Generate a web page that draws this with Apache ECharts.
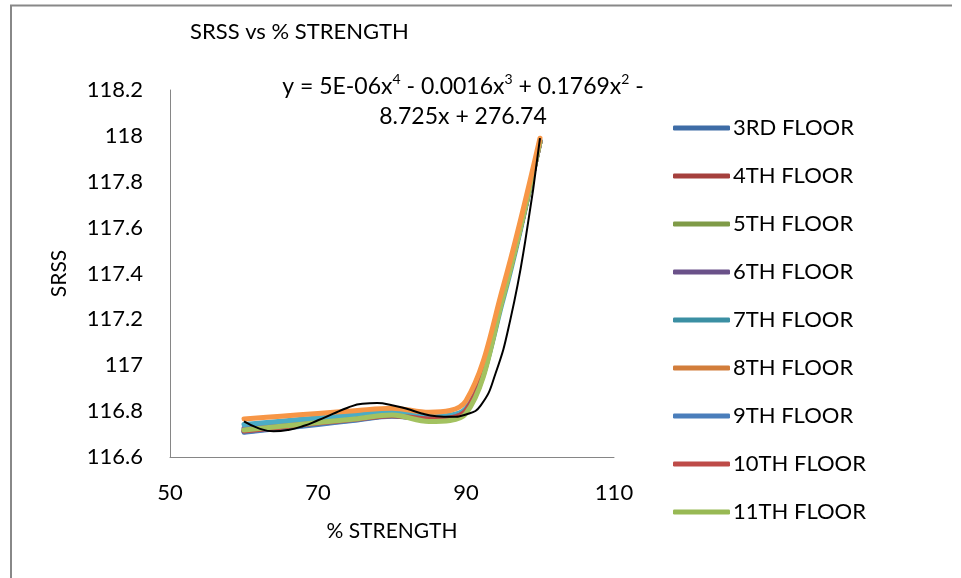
<!DOCTYPE html>
<html>
<head>
<meta charset="utf-8">
<script src="https://cdn.jsdelivr.net/npm/echarts@6/dist/echarts.min.js"></script>
<style>
  html, body { margin: 0; padding: 0; background: #fff; }
  #main { width: 961px; height: 578px; }
</style>
</head>
<body>
<div id="main"></div>
<script>
// % strength values where each floor was evaluated
let strength = [60, 65, 70, 75, 80, 85, 90, 95, 100];

// SRSS per floor
let floor3  = [116.710, 116.728, 116.745, 116.762, 116.780, 116.768, 116.805, 117.300, 117.975];
let floor4  = [116.715, 116.732, 116.750, 116.766, 116.782, 116.768, 116.805, 117.300, 117.975];
let floor5  = [116.720, 116.736, 116.752, 116.768, 116.785, 116.766, 116.800, 117.300, 117.975];
let floor6  = [116.725, 116.740, 116.755, 116.771, 116.787, 116.770, 116.805, 117.300, 117.975];
let floor7  = [116.742, 116.756, 116.770, 116.784, 116.797, 116.778, 116.812, 117.285, 117.980];
let floor8  = [116.766, 116.778, 116.790, 116.802, 116.813, 116.795, 116.845, 117.340, 117.990];
let floor9  = [116.708, 116.725, 116.742, 116.760, 116.778, 116.766, 116.803, 117.300, 117.975];
let floor10 = [116.713, 116.730, 116.748, 116.764, 116.780, 116.766, 116.803, 117.300, 117.975];
let floor11 = [116.718, 116.734, 116.750, 116.766, 116.783, 116.755, 116.790, 117.295, 117.975];

// poly trendline
let trendX = [60, 62, 64, 66, 68, 70, 72, 74, 76, 78, 80, 82, 84, 86, 88, 90, 92, 94, 96, 98, 100];
let trendY = [116.755, 116.725, 116.712, 116.718, 116.735, 116.760, 116.788, 116.815, 116.832, 116.835,
              116.826, 116.810, 116.790, 116.778, 116.775, 116.785, 116.825, 116.965, 117.200, 117.540, 117.990];

let floorNames = ['3RD FLOOR', '4TH FLOOR', '5TH FLOOR', '6TH FLOOR', '7TH FLOOR',
                  '8TH FLOOR', '9TH FLOOR', '10TH FLOOR', '11TH FLOOR'];
let floorData = [floor3, floor4, floor5, floor6, floor7, floor8, floor9, floor10, floor11];

let lineColors = ['#4F81BD', '#C0504D', '#9BBB59', '#8064A2', '#4BACC6', '#F79646', '#4A7EBB', '#BE4B48', '#A3C260'];
let legendColors = ['#3E6CA6', '#A5403D', '#7F9B47', '#6A5189', '#3B8FA3', '#D27D3B', '#4A7EBB', '#BE4B48', '#98B954'];

const FONT = 'Lato';

let pairs = (xs, ys) => xs.map((x, i) => [x, ys[i]]);

let series = floorNames.map((name, i) => ({
    name: name,
    type: 'line',
    data: pairs(strength, floorData[i]),
    smooth: 0.35,
    showSymbol: false,
    color: lineColors[i],
    lineStyle: { width: 5, color: lineColors[i], cap: 'round', join: 'round' },
    z: i == 5 ? 4 : 3
}));

series.push({
    name: 'trend',
    type: 'line',
    data: pairs(trendX, trendY),
    smooth: true,
    showSymbol: false,
    lineStyle: { width: 2, color: '#000' },
    z: 5
});

let myChart = echarts.init(document.getElementById('main'));
let option = {
    animation: false,
    backgroundColor: '#fff',
    textStyle: { fontFamily: FONT },
    title: {
        text: 'SRSS vs % STRENGTH',
        left: 185,
        top: 16,
        textStyle: { fontFamily: FONT, fontSize: 22, fontWeight: 'normal', color: '#000' }
    },
    grid: { left: 170, right: 347, top: 90, bottom: 121 },
    legend: {
        orient: 'vertical',
        left: 668,
        top: 112,
        icon: 'roundRect',
        itemWidth: 57,
        itemHeight: 5,
        itemGap: 26,
        textStyle: { fontFamily: FONT, fontSize: 22, color: '#000', lineHeight: 22, padding: [0, 0, 0, -2] },
        data: floorNames.map((n, i) => ({ name: n, itemStyle: { color: legendColors[i] } }))
    },
    xAxis: {
        type: 'value',
        min: 50,
        max: 110,
        interval: 20,
        name: '% STRENGTH',
        nameLocation: 'middle',
        nameGap: 64,
        nameTextStyle: { fontFamily: FONT, fontSize: 21, color: '#000' },
        axisLine: { show: true, lineStyle: { color: '#868686', width: 1 } },
        axisTick: { show: false },
        splitLine: { show: false },
        axisLabel: { fontFamily: FONT, fontSize: 22, color: '#000', margin: 25 }
    },
    yAxis: {
        type: 'value',
        min: 116.6,
        max: 118.2,
        interval: 0.2,
        name: 'SRSS',
        nameLocation: 'middle',
        nameGap: 100,
        nameTextStyle: { fontFamily: FONT, fontSize: 21, color: '#000' },
        axisLine: { show: true, lineStyle: { color: '#868686', width: 1 } },
        axisTick: { show: false },
        splitLine: { show: false },
        axisLabel: {
            fontFamily: FONT, fontSize: 22, color: '#000', margin: 27,
            formatter: v => String(parseFloat(v.toFixed(1)))
        }
    },
    graphic: [
        {   // chart area border (left + top)
            type: 'polyline',
            shape: { points: [[11, 578], [11, 5.5], [952, 5.5]] },
            style: { stroke: '#888', lineWidth: 2, fill: null },
            silent: true
        },
        {   // trendline equation
            type: 'text',
            x: 463,
            y: 72,
            style: {
                text: 'y = 5E-06x{sup|4} - 0.0016x{sup|3} + 0.1769x{sup|2} -\n8.725x + 276.74',
                fontFamily: FONT,
                fontSize: 23,
                lineHeight: 30,
                fill: '#000',
                align: 'center',
                rich: {
                    sup: { fontFamily: FONT, fontSize: 14, verticalAlign: 'top', fill: '#000', lineHeight: 30 }
                }
            },
            silent: true
        }
    ],
    series: series
};
myChart.setOption(option);
</script>
</body>
</html>
